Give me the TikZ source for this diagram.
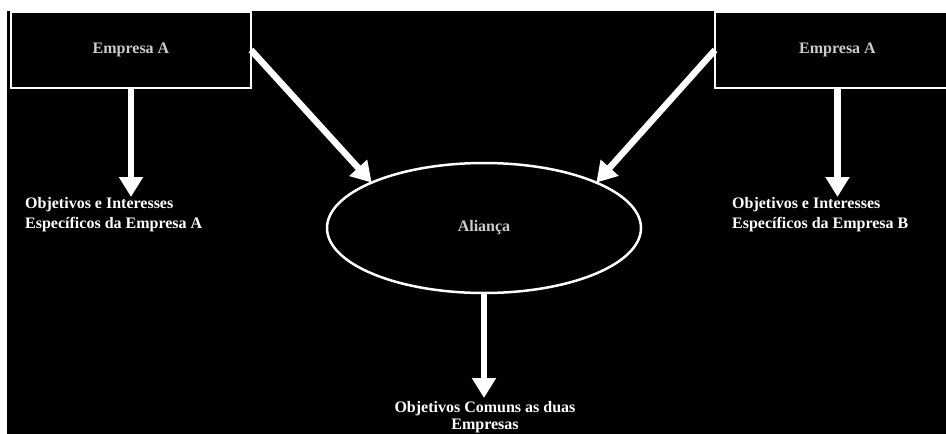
\documentclass[tikz,border=0pt]{standalone}
\usepackage{fontspec}
\setmainfont{Liberation Serif}
\usetikzlibrary{arrows.meta,shapes.geometric}
\begin{document}
\begin{tikzpicture}[x=1pt,y=-1pt,
  box/.style={draw=white, line width=2pt, fill=black, inner sep=0pt, outer sep=0pt,
    text=white!80!black, font=\bfseries\fontsize{16}{19}\selectfont},
  lbl/.style={text=white, font=\bfseries\fontsize{16}{20.5}\selectfont, inner sep=0pt},
  oval/.style={draw=white, line width=2.5pt, fill=black, ellipse, inner sep=0pt, outer sep=0pt,
    text=white!80!black, font=\bfseries\fontsize{16}{19}\selectfont},
  bigarrow/.style={draw=white, line width=6.5pt, -{Triangle[width=23pt,length=20pt]}}]
\useasboundingbox (0,0) rectangle (946,434);
\clip (0,0) rectangle (946,434);
\fill[white] (0,0) rectangle (946,434);
\fill[black] (7,11) rectangle (946,434);
% boxes
\node[box, minimum width=240, minimum height=76] (ea) at (131,50) {Empresa A};
\node[box, minimum width=245, minimum height=76] (eb) at (837.5,50) {Empresa A};
\node[oval, minimum width=314, minimum height=130] (al) at (484,228) {Aliança};
% labels
\node[lbl, align=left, anchor=north west] (oa) at (25,197) {Objetivos e Interesses\\Específicos da Empresa A};
\node[lbl, align=left, anchor=north west] (ob) at (732,197) {Objetivos e Interesses\\Específicos da Empresa B};
\node[lbl, align=center, anchor=north, font=\bfseries\fontsize{16}{16.5}\selectfont] (oc) at (485,401.5) {Objetivos Comuns as duas\\Empresas};
\coordinate (tc) at (484,398);
% arrows
\draw[bigarrow] (ea.south) -- (ea.south |- oa.north);
\draw[bigarrow] (eb.south) -- (eb.south |- ob.north);
\draw[bigarrow] (ea.east) -- (al.158);
\draw[bigarrow] (eb.west) -- (al.22);
\draw[bigarrow] (al.south) -- (tc);
\end{tikzpicture}
\end{document}
